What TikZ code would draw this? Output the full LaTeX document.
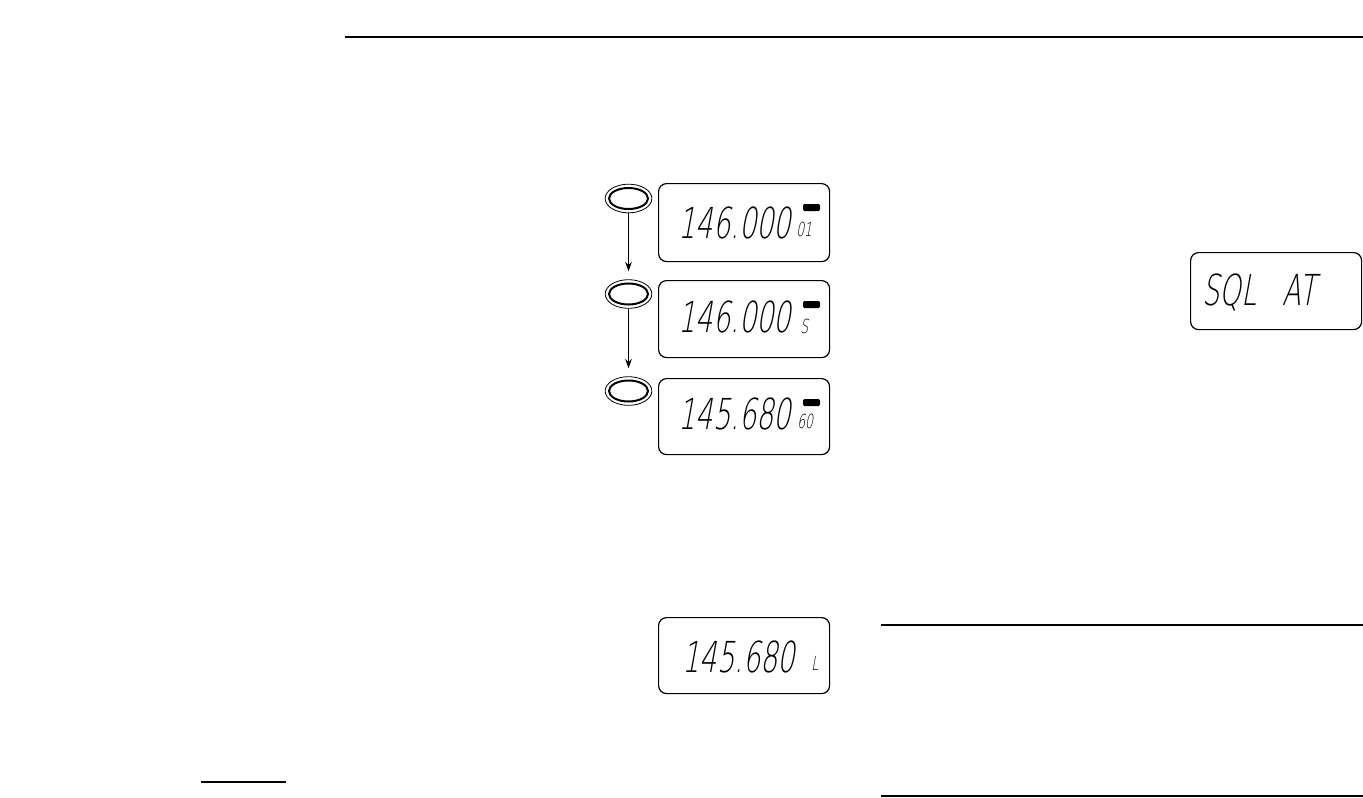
\documentclass[tikz,border=0pt]{standalone}
\usepackage{fontspec}
\usetikzlibrary{arrows.meta,shapes.geometric}
\newfontfamily\lcdfont[FakeSlant=0.18,FakeStretch=0.64]{DejaVu Sans ExtraLight}
\begin{document}
\begin{tikzpicture}[x=0.75pt,y=-0.75pt,
  rule/.style={line width=1.1pt},
  disp/.style={draw,rounded corners=6pt,line width=0.9pt,anchor=north west,inner sep=0pt},
  btn/.style={draw,ellipse,line width=0.6pt,minimum width=35pt,minimum height=21.5pt,inner sep=0pt},
  big/.style={anchor=base west,inner sep=0pt,font=\lcdfont\fontsize{32}{32}\selectfont},
  small/.style={anchor=base west,inner sep=0pt,font=\lcdfont\fontsize{14.5}{14.5}\selectfont},
  ind/.style={fill=black,rounded corners=1pt},
  flow/.style={line width=0.6pt,-{Stealth[length=7pt,width=5pt]},shorten >=6pt}]
\useasboundingbox (0,0) rectangle (1363,797);
% header rule
\draw[line width=1.9pt] (345,37) -- (1363,37);
% buttons
\node[btn] (b1) at (628.5,198.5) {};
\node[btn] (b2) at (628.5,294) {};
\node[btn] (b3) at (628.5,391) {};
\foreach \b in {b1,b2,b3}{\draw[line width=1.5pt] (\b.center) ellipse [x radius=19.5,y radius=10.5];}
\draw[flow] (b1.south) -- (b2.north);
\draw[flow] (b2.south) -- (b3.north);
% displays
\node[disp,minimum width=128.25pt,minimum height=58.5pt] (d1) at (658,183) {};
\node[disp,minimum width=128.25pt,minimum height=57.75pt] (d2) at (658,280) {};
\node[disp,minimum width=128.25pt,minimum height=57pt] (d3) at (658,378) {};
\node[disp,minimum width=128.25pt,minimum height=57pt] (d4) at (658,617) {};
\node[disp,minimum width=128.25pt,minimum height=57.75pt] (d5) at (1190,252) {};
% display contents
\node[big] (t1) at (678,238) {146.000};
\node[small] (s1) at (796,236) {01};
\fill[ind] (803,204) rectangle (820,211);
\node[big] (t2) at (678,332) {146.000};
\node[small] (s2) at (800,333) {S};
\fill[ind] (803,301) rectangle (820,308);
\node[big] (t3) at (678,429) {145.680};
\node[small] (s3) at (797,428) {60};
\fill[ind] (803,399) rectangle (820,406);
\node[big] (t4) at (682,672) {145.680};
\node[small] (s4) at (811,670) {L};
\node[big] (t5) at (1202,305) {SQL\hspace{20pt}AT};
% rules
\draw[rule] (201,782) -- (286,782);
\draw[rule] (881,625) -- (1363,625);
\draw[rule] (881,796) -- (1363,796);
\end{tikzpicture}
\end{document}
